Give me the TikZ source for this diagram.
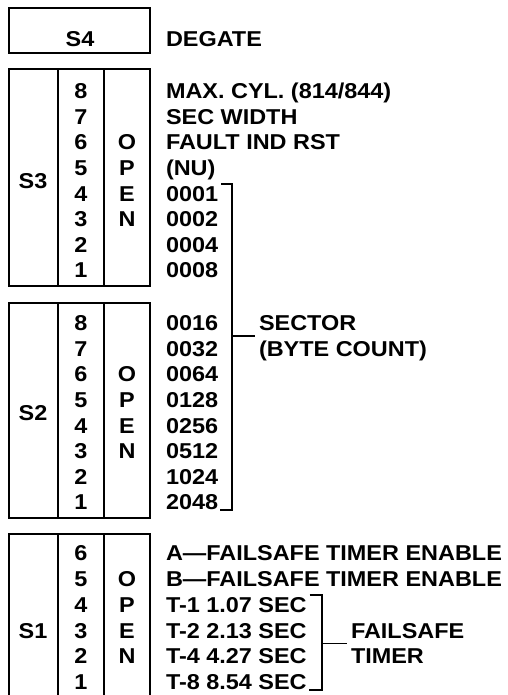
\documentclass[tikz,border=0pt]{standalone}
\usepackage{fontspec}
\setmainfont{Liberation Sans}[FakeStretch=1.09]
\usetikzlibrary{positioning,calc}

\begin{document}
\begin{tikzpicture}[x=1pt, y=-1pt, line width=2pt,
    txt/.style={inner sep=0pt, anchor=base west, font=\fontsize{21.5}{24}\selectfont\bfseries},
    ctr/.style={inner sep=0pt, anchor=base, font=\fontsize{21.5}{24}\selectfont\bfseries},
    brk/.style={line width=1.8pt}]
  \useasboundingbox (0,0) rectangle (507,695);
  % S4
  \draw (9,8) rectangle (150,53);
  \node[ctr] (s4) at (80,46.5) {S4};
  \node[txt] (degate) at (165,46.5) {DEGATE};
  % S3
  \draw (9,69) rectangle (150,286) (58,69) -- (58,286) (104,69) -- (104,286);
  \node[ctr] (s3) at (33,188) {S3};
  \foreach \k/\t in {8/{MAX. CYL. (814/844)},7/{SEC WIDTH},6/{FAULT IND RST},5/{(NU)},
                     4/0001,3/0002,2/0004,1/0008}{
    \node[ctr] (s3n\k) at (81,{98.7+(8-\k)*25.6}) {\k};
    \node[txt] (s3t\k) at (165,{98.7+(8-\k)*25.6}) {\t};
  }
  \foreach \k/\c in {6/O,5/P,4/E,3/N}
    \node[ctr] (s3o\k) at (127,{98.7+(8-\k)*25.6}) {\c};
  % S2
  \draw (9,303) rectangle (150,518) (58,303) -- (58,518) (104,303) -- (104,518);
  \node[ctr] (s2) at (33,420) {S2};
  \foreach \k/\t in {8/0016,7/0032,6/0064,5/0128,4/0256,3/0512,2/1024,1/2048}{
    \node[ctr] (s2n\k) at (81,{330.7+(8-\k)*25.6}) {\k};
    \node[txt] (s2t\k) at (165,{330.7+(8-\k)*25.6}) {\t};
  }
  \foreach \k/\c in {6/O,5/P,4/E,3/N}
    \node[ctr] (s2o\k) at (127,{330.7+(8-\k)*25.6}) {\c};
  % S1 (runs off the bottom edge)
  \draw (9,695) -- (9,534) -- (150,534) -- (150,695) (58,534) -- (58,695) (104,534) -- (104,695);
  \node[ctr] (s1) at (33,638) {S1};
  \foreach \k/\t in {6/{A—FAILSAFE TIMER ENABLE},5/{B—FAILSAFE TIMER ENABLE},
                     4/{T-1 1.07 SEC},3/{T-2 2.13 SEC},2/{T-4 4.27 SEC},1/{T-8 8.54 SEC}}{
    \node[ctr] (s1n\k) at (81,{560.7+(6-\k)*25.8}) {\k};
    \node[txt] (s1t\k) at (165,{560.7+(6-\k)*25.8}) {\t};
  }
  \foreach \k/\c in {5/O,4/P,3/E,2/N}
    \node[ctr] (s1o\k) at (127,{560.7+(6-\k)*25.8}) {\c};
  % sector bracket
  \coordinate (sbr) at (232,0);
  \node[txt] (sec) at (258,330.7) {SECTOR};
  \node[txt] (byte) at (258,356.3) {(BYTE COUNT)};
  \coordinate (smid) at ($(sec.base west)!.5!(byte.base west)+(0pt,7.5pt)$);
  \draw[brk] ([xshift=2pt,yshift=1pt]s3t4.north east) -| (sbr |- s2t1.base) -- ([xshift=1pt]s2t1.base east);
  \draw[brk] (sbr |- smid) -- ([xshift=-3pt]smid);
  % failsafe timer bracket
  \coordinate (fbr) at (322,0);
  \node[txt] (fs) at (350,638.1) {FAILSAFE};
  \node[txt] (tmr) at (350,663.9) {TIMER};
  \coordinate (fmid) at ($(fs.base west)!.5!(tmr.base west)+(0pt,7.5pt)$);
  \draw[brk] ([xshift=2pt,yshift=1pt]s1t4.north east) -| (fbr |- s1t1.base) -- ([xshift=1pt]s1t1.base east);
  \draw[brk] (fbr |- fmid) -- ([xshift=-3pt]fmid);
\end{tikzpicture}
\end{document}
